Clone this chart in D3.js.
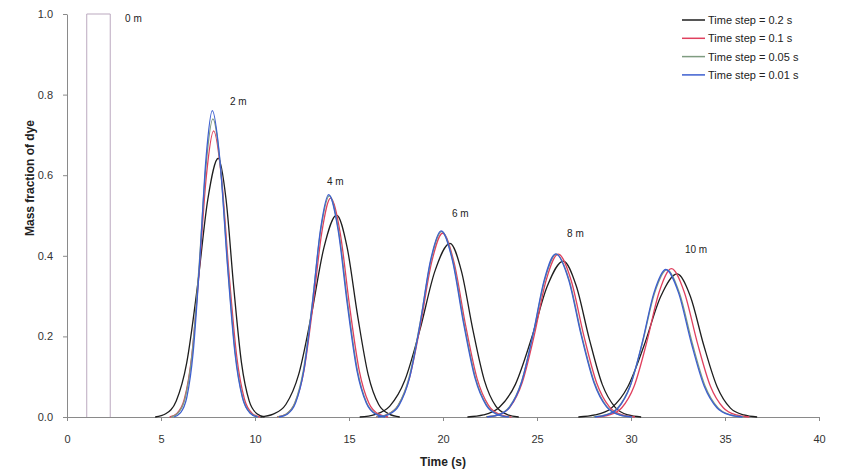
<!DOCTYPE html>
<html><head><meta charset="utf-8">
<script src="https://cdn.jsdelivr.net/npm/d3@7"></script>
<style>
body{margin:0;background:#fff;}
text{font-family:"Liberation Sans",Arial,sans-serif;}
</style>
</head><body>
<svg id="chart" width="844" height="475"></svg>
<script>
// ---------- data ----------
const seriesNames = ["Time step = 0.2 s","Time step = 0.1 s","Time step = 0.05 s","Time step = 0.01 s"];
const xTicks = [0,5,10,15,20,25,30,35,40];
const yTicks = [0,0.2,0.4,0.6,0.8,1.0];
const pulseLabels = ["0 m","2 m","4 m","6 m","8 m","10 m"];
const pulseLabelTime = [3.09,8.67,13.83,20.48,26.6,32.87];
const pulseLabelValue = [0.98,0.774,0.576,0.496,0.447,0.407];

const inletTime = [1.05,1.05,2.3,2.3];
const inletValue = [0,1,1,0];

// Time step = 0.2 s
const step02Time = [
 [4.69,5.25,5.81,6.37,6.93,7.49,8.05,8.46,8.87,9.28,9.69,10.10,10.51],
 [10.29,10.97,11.64,12.32,12.99,13.67,14.34,14.90,15.46,16.02,16.58,17.14,17.70],
 [15.57,16.37,17.17,17.97,18.77,19.57,20.37,20.98,21.59,22.20,22.81,23.42,24.03],
 [21.30,22.15,23.00,23.85,24.70,25.55,26.40,27.09,27.78,28.47,29.16,29.85,30.54],
 [27.20,28.08,28.95,29.83,30.70,31.58,32.45,33.16,33.87,34.58,35.29,36.00,36.71]];
const step02Value = [
 [0,0.008,0.040,0.135,0.321,0.540,0.642,0.540,0.321,0.135,0.040,0.008,0],
 [0,0.007,0.031,0.105,0.251,0.421,0.501,0.421,0.251,0.105,0.031,0.007,0],
 [0,0.006,0.027,0.091,0.216,0.362,0.431,0.362,0.216,0.091,0.027,0.006,0],
 [0,0.005,0.024,0.081,0.194,0.325,0.387,0.325,0.194,0.081,0.024,0.005,0],
 [0,0.005,0.022,0.075,0.178,0.299,0.355,0.299,0.178,0.075,0.022,0.005,0]];

// Time step = 0.1 s
const step01Time = [
 [5.46,5.85,6.24,6.63,7.02,7.41,7.80,8.21,8.62,9.03,9.44,9.85,10.26],
 [11.17,11.65,12.12,12.60,13.07,13.55,14.02,14.53,15.04,15.55,16.06,16.57,17.08],
 [16.44,17.03,17.62,18.21,18.80,19.39,19.98,20.59,21.20,21.81,22.42,23.03,23.64],
 [22.29,22.93,23.57,24.21,24.85,25.49,26.13,26.81,27.49,28.17,28.85,29.53,30.21],
 [28.19,28.85,29.51,30.17,30.83,31.49,32.15,32.84,33.53,34.22,34.91,35.60,36.29]];
const step01Value = [
 [0,0.009,0.044,0.149,0.355,0.597,0.710,0.597,0.355,0.149,0.044,0.009,0],
 [0,0.007,0.034,0.114,0.272,0.457,0.543,0.457,0.272,0.114,0.034,0.007,0],
 [0,0.006,0.029,0.096,0.228,0.383,0.456,0.383,0.228,0.096,0.029,0.006,0],
 [0,0.005,0.025,0.085,0.202,0.340,0.404,0.340,0.202,0.085,0.025,0.005,0],
 [0,0.005,0.023,0.077,0.184,0.309,0.368,0.309,0.184,0.077,0.023,0.005,0]];

// Time step = 0.05 s
const step005Time = [
 [5.54,5.91,6.28,6.65,7.02,7.39,7.76,8.16,8.56,8.96,9.36,9.76,10.16],
 [11.19,11.65,12.11,12.57,13.03,13.49,13.95,14.45,14.95,15.45,15.95,16.45,16.95],
 [16.45,17.03,17.61,18.19,18.77,19.35,19.93,20.53,21.13,21.73,22.33,22.93,23.53],
 [22.28,22.91,23.53,24.16,24.78,25.41,26.03,26.71,27.38,28.06,28.73,29.41,30.08],
 [28.00,28.65,29.30,29.95,30.60,31.25,31.90,32.58,33.26,33.94,34.62,35.30,35.98]];
const step005Value = [
 [0,0.010,0.046,0.155,0.370,0.622,0.740,0.622,0.370,0.155,0.046,0.010,0],
 [0,0.007,0.034,0.115,0.275,0.462,0.549,0.462,0.275,0.115,0.034,0.007,0],
 [0,0.006,0.029,0.097,0.230,0.387,0.460,0.387,0.230,0.097,0.029,0.006,0],
 [0,0.005,0.025,0.085,0.202,0.340,0.404,0.340,0.202,0.085,0.025,0.005,0],
 [0,0.005,0.023,0.077,0.183,0.307,0.365,0.307,0.183,0.077,0.023,0.005,0]];

// Time step = 0.01 s
const step001Time = [
 [5.69,6.03,6.37,6.71,7.05,7.39,7.73,8.13,8.53,8.93,9.33,9.73,10.13],
 [11.28,11.72,12.16,12.60,13.04,13.48,13.92,14.42,14.92,15.42,15.92,16.42,16.92],
 [16.54,17.10,17.66,18.22,18.78,19.34,19.90,20.50,21.10,21.70,22.30,22.90,23.50],
 [22.34,22.95,23.56,24.17,24.78,25.39,26.00,26.68,27.35,28.03,28.70,29.38,30.05],
 [28.07,28.70,29.33,29.96,30.59,31.22,31.85,32.53,33.21,33.89,34.57,35.25,35.93]];
const step001Value = [
 [0,0.010,0.048,0.160,0.380,0.639,0.760,0.639,0.380,0.160,0.048,0.010,0],
 [0,0.007,0.035,0.116,0.276,0.464,0.552,0.464,0.276,0.116,0.035,0.007,0],
 [0,0.006,0.029,0.097,0.231,0.389,0.462,0.389,0.231,0.097,0.029,0.006,0],
 [0,0.005,0.025,0.085,0.203,0.341,0.405,0.341,0.203,0.085,0.025,0.005,0],
 [0,0.005,0.023,0.077,0.183,0.308,0.366,0.308,0.183,0.077,0.023,0.005,0]];

// ---------- drawing ----------
(function(){
const colors = ["#1e1e1e","#e0405e","#7f9c80","#3d5fd0"];
const seriesTime = [step02Time, step01Time, step005Time, step001Time];
const seriesValue = [step02Value, step01Value, step005Value, step001Value];

const svg = d3.select("#chart");
const mLeft = 67, mRight = 819, mTop = 14, mBottom = 417;
const x = d3.scaleLinear().domain([0,40]).range([mLeft,mRight]);
const y = d3.scaleLinear().domain([0,1]).range([mBottom,mTop]);

const axisColor = "#8a8a8a", textColor = "#333";

const gx = svg.append("g").attr("transform",`translate(0,${mBottom})`)
  .call(d3.axisBottom(x).tickValues(xTicks).tickFormat(d3.format("d")).tickSize(4).tickSizeOuter(0).tickPadding(14));
const gy = svg.append("g").attr("transform",`translate(${mLeft},0)`)
  .call(d3.axisLeft(y).tickValues(yTicks).tickFormat(d3.format(".1f")).tickSize(4).tickSizeOuter(0).tickPadding(10));
[gx,gy].forEach(g=>{
  g.selectAll("path,line").attr("stroke",axisColor);
  g.selectAll("text").attr("fill",textColor).style("font-size","11px").style("font-family","'Liberation Sans',Arial,sans-serif");
});

svg.append("text").attr("x",(mLeft+mRight)/2).attr("y",466).attr("text-anchor","middle")
  .style("font-size","12px").style("font-weight","bold").attr("fill","#222").text("Time (s)");
svg.append("text").attr("transform","translate(34,178) rotate(-90)").attr("text-anchor","middle")
  .style("font-size","12px").style("font-weight","bold").attr("fill","#222").text("Mass fraction of dye");

const line = d3.line().x(d=>x(d[0])).y(d=>y(d[1]));
svg.append("path").datum(inletTime.map((t,i)=>[t,inletValue[i]]))
  .attr("d",line).attr("fill","none").attr("stroke","#bba9bf").attr("stroke-width",1);

const curve = d3.line().x(d=>x(d[0])).y(d=>y(d[1])).curve(d3.curveMonotoneX);
seriesTime.forEach((pulses,s)=>{
  const g = svg.append("g");
  pulses.forEach((times,p)=>{
    const pts = times.map((t,i)=>[t, seriesValue[s][p][i]]);
    g.append("path").datum(pts).attr("d",curve).attr("fill","none")
      .attr("stroke",colors[s]).attr("stroke-width",1.3);
  });
});

pulseLabels.forEach((lab,i)=>{
  svg.append("text").attr("x",x(pulseLabelTime[i])).attr("y",y(pulseLabelValue[i]))
    .style("font-size","10px").attr("fill","#222").text(lab);
});

const leg = svg.append("g");
seriesNames.forEach((name,i)=>{
  const yy = 20 + i*18.3;
  leg.append("line").attr("x1",682).attr("x2",705).attr("y1",yy).attr("y2",yy)
    .attr("stroke",colors[i]).attr("stroke-width",1.5);
  leg.append("text").attr("x",708).attr("y",yy+4).style("font-size","11px").attr("fill","#222").text(name);
});
})();
</script>
</body></html>
